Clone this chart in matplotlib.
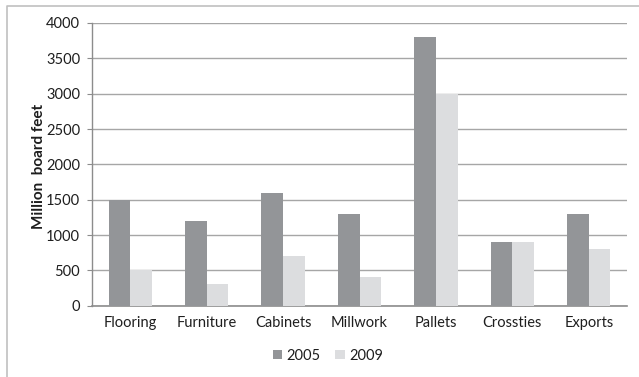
import numpy as np
import matplotlib
matplotlib.use('Agg')
import matplotlib.pyplot as plt
from matplotlib.lines import Line2D
from matplotlib.patches import Patch

plt.rcParams['font.family'] = ['Lato', 'DejaVu Sans']

categories = ['Flooring', 'Furniture', 'Cabinets', 'Millwork',
              'Pallets', 'Crossties', 'Exports']
series_names = ['2005', '2009']
vals_2005 = [1500, 1200, 1600, 1300, 3800, 900, 1300]
vals_2009 = [500, 300, 700, 400, 3000, 900, 800]
yticks = [0, 500, 1000, 1500, 2000, 2500, 3000, 3500, 4000]

c2005 = '#939598'
c2009 = '#dcdddf'
txt = '#1e1e1e'

fig = plt.figure(figsize=(6.39, 3.77), dpi=100)
ax = fig.add_axes([92/639, 1-305.7/377, (627-92)/639, (305.7-23)/377])

x = np.arange(len(categories))
w = 0.284
ax.bar(x - w/2, vals_2005, width=w, color=c2005, zorder=3)
ax.bar(x + w/2, vals_2009, width=w, color=c2009, zorder=3)

ax.set_xlim(-0.5, len(categories) - 0.5)
ax.set_ylim(0, 4000)
ax.set_yticks(yticks)
ax.set_yticklabels([str(v) for v in yticks])
ax.set_xticks(x)
ax.set_xticklabels(categories)
ax.yaxis.grid(True, color='#a6a6a6', lw=1.0, zorder=0)
ax.set_axisbelow(True)

for s in ['top', 'right']:
    ax.spines[s].set_visible(False)
ax.spines['left'].set_color('#8c8c8c')
ax.spines['bottom'].set_color('#8c8c8c')
ax.spines['left'].set_linewidth(1.0)
ax.spines['bottom'].set_linewidth(1.2)

ax.tick_params(axis='y', length=3.6, width=0.8, color='#8c8c8c',
               pad=5, labelsize=10.5, labelcolor=txt)
ax.tick_params(axis='x', length=0, pad=7.5, labelsize=10.5,
               labelcolor=txt)

ax.set_ylabel('Million  board feet', fontsize=11, fontweight='bold',
              color=txt)
ax.yaxis.set_label_coords((46 - 92)/535, 1 - (166 - 23)/282.7)

handles = [Patch(facecolor=c2005), Patch(facecolor=c2009)]
fig.legend(handles, series_names, ncol=2, loc='center',
           bbox_to_anchor=(328/639, 1 - 355.7/377), frameon=False,
           fontsize=10.5, handlelength=0.65, handleheight=0.65,
           handletextpad=0.3, columnspacing=1.0, labelcolor=txt)

# outer frame
fig.add_artist(Line2D([7/639, 7/639, 1.0], [0.0, 1 - 6/377, 1 - 6/377],
                      transform=fig.transFigure, color='#c0c0c0', lw=1.2))

fig.savefig('out.png', dpi=100)
